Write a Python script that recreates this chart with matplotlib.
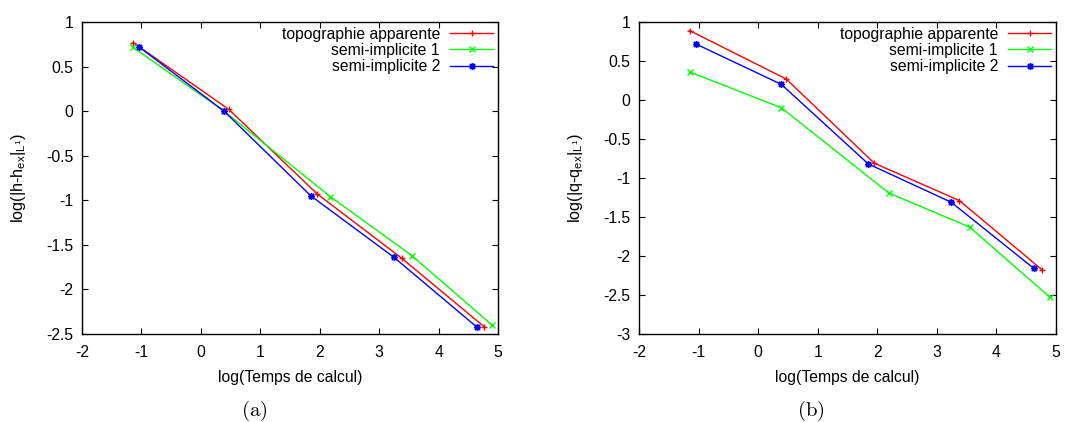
import matplotlib
matplotlib.use("Agg")
import matplotlib.pyplot as plt

plt.rcParams['font.family'] = ['Liberation Sans', 'DejaVu Sans']
plt.rcParams['mathtext.fontset'] = 'custom'
plt.rcParams['mathtext.rm'] = 'Liberation Sans'
plt.rcParams['mathtext.it'] = 'Liberation Sans:italic'

labels = ["topographie apparente", "semi-implicite 1", "semi-implicite 2"]
colors = ["#ff0000", "#00ff00", "#0000ff"]

# (a) log(|h-h_ex|_L1) vs log(Temps de calcul)
a_topo_x = [-1.14, 0.47, 1.96, 3.38, 4.77]
a_topo_y = [0.77, 0.02, -0.93, -1.65, -2.42]
a_semi1_x = [-1.15, 0.39, 2.18, 3.55, 4.90]
a_semi1_y = [0.72, 0.00, -0.96, -1.62, -2.40]
a_semi2_x = [-1.04, 0.39, 1.85, 3.25, 4.64]
a_semi2_y = [0.72, 0.00, -0.95, -1.64, -2.42]

# (b) log(|q-q_ex|_L1) vs log(Temps de calcul)
b_topo_x = [-1.15, 0.47, 1.95, 3.38, 4.77]
b_topo_y = [0.89, 0.27, -0.81, -1.29, -2.18]
b_semi1_x = [-1.15, 0.39, 2.19, 3.55, 4.90]
b_semi1_y = [0.36, -0.10, -1.19, -1.63, -2.53]
b_semi2_x = [-1.05, 0.39, 1.85, 3.24, 4.63]
b_semi2_y = [0.72, 0.20, -0.82, -1.31, -2.16]

xticks = [-2, -1, 0, 1, 2, 3, 4, 5]
a_yticks = [1, 0.5, 0, -0.5, -1, -1.5, -2, -2.5]
b_yticks = [1, 0.5, 0, -0.5, -1, -1.5, -2, -2.5, -3]

markers = ['+', 'x', (8, 2, 0)]

W, H = 1078, 422
fig = plt.figure(figsize=(W / 100, H / 100), dpi=100)

def add_ax(l, r, t, b):
    return fig.add_axes([l / W, 1 - b / H, (r - l) / W, (b - t) / H])

ax_a = add_ax(82, 498, 22, 334)
ax_b = add_ax(639, 1056, 22, 334)

FS = 11.3

def style(ax, yticks, ylim, ylabel):
    ax.set_xlim(-2, 5)
    ax.set_ylim(*ylim)
    ax.set_xticks(xticks)
    ax.set_xticklabels(['%g' % v for v in xticks])
    ax.set_yticks(yticks)
    ax.set_yticklabels(['%g' % v for v in yticks])
    ax.tick_params(direction='in', length=4, width=0.8, top=True, right=True,
                   labelsize=FS, colors='black')
    ax.tick_params(axis='y', pad=6)
    ax.tick_params(axis='x', pad=8)
    for s in ax.spines.values():
        s.set_linewidth(1.0)
    ax.set_xlabel("log(Temps de calcul)", fontsize=FS, labelpad=7)
    ax.set_ylabel(ylabel, fontsize=FS + 0.4, labelpad=13)
    leg = ax.legend(loc='upper right', frameon=False, markerfirst=False,
                    fontsize=FS, handlelength=2.75, handletextpad=0.65,
                    labelspacing=0.08, borderpad=0.0, borderaxespad=0.3)
    for col in leg._legend_handle_box.get_children():
        col.align = 'right'

def draw(ax, xs, ys):
    for x, y, lab, c, m in zip(xs, ys, labels, colors, markers):
        ax.plot(x, y, color=c, lw=1.0, marker=m, markersize=5,
                markeredgewidth=1.0, label=lab)

draw(ax_a, [a_topo_x, a_semi1_x, a_semi2_x], [a_topo_y, a_semi1_y, a_semi2_y])
draw(ax_b, [b_topo_x, b_semi1_x, b_semi2_x], [b_topo_y, b_semi1_y, b_semi2_y])

style(ax_a, a_yticks, (-2.5, 1), r'log(|h-h$_{\mathrm{ex}}$|$_{\mathrm{L}^{1}}$)')
style(ax_b, b_yticks, (-3, 1), r'log(|q-q$_{\mathrm{ex}}$|$_{\mathrm{L}^{1}}$)')

fig.text(254 / W, 1 - 411 / H, r"$\mathrm{(a)}$", ha='center', va='center',
         fontsize=15, math_fontfamily='cm')
fig.text(811 / W, 1 - 411 / H, r"$\mathrm{(b)}$", ha='center', va='center',
         fontsize=15, math_fontfamily='cm')

fig.savefig("out.png", dpi=100)
